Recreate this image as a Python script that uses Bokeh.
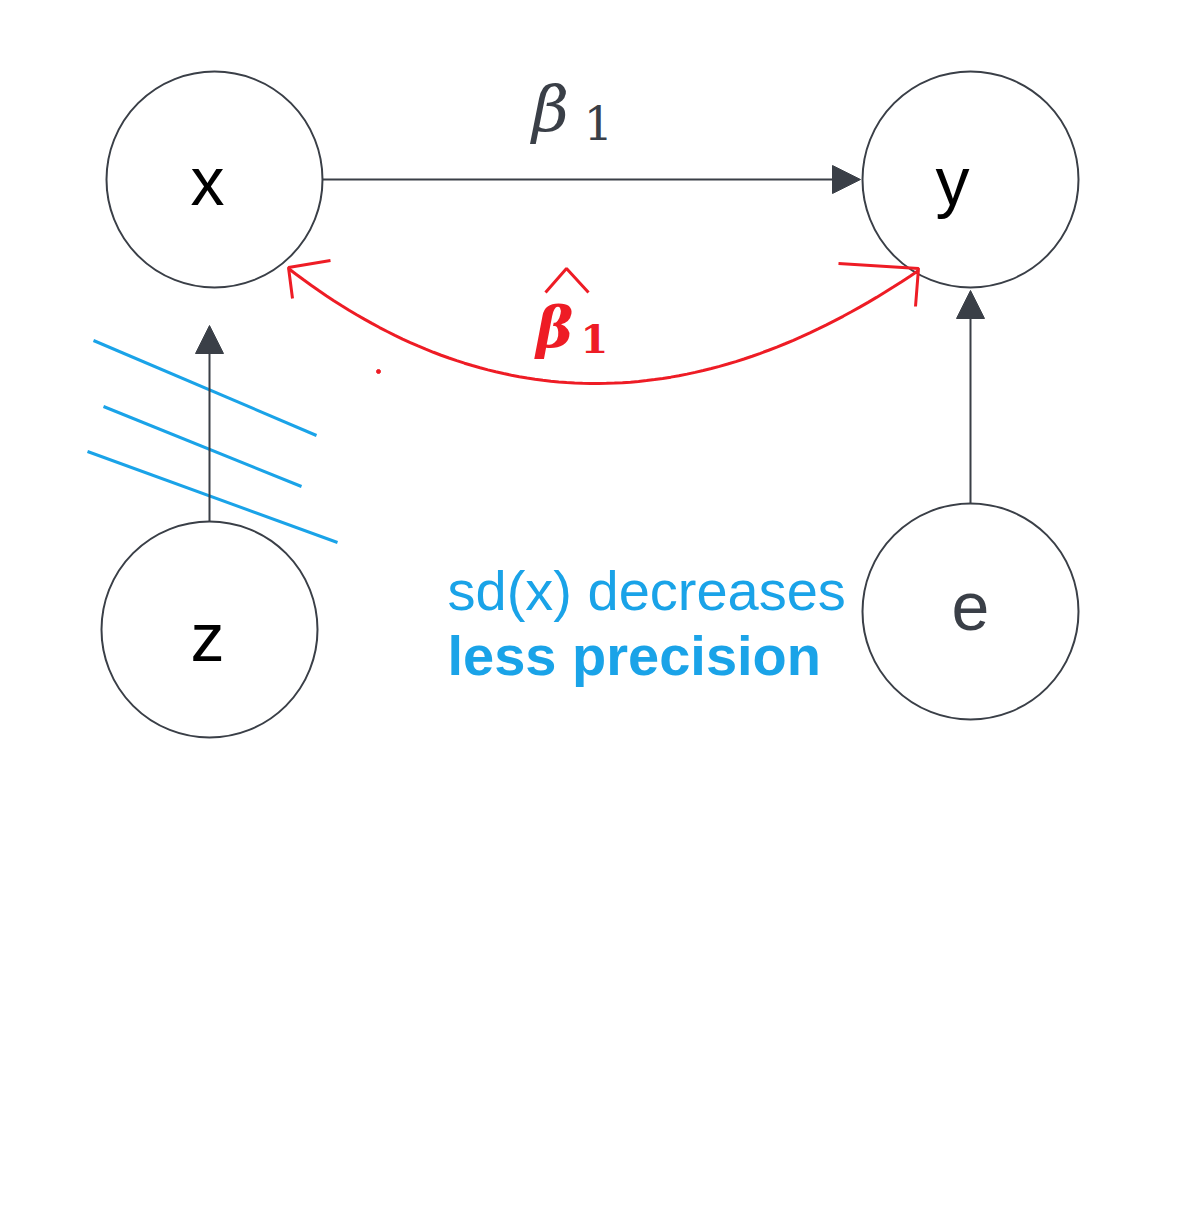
import numpy as np
from bokeh.plotting import figure
from bokeh.models import Range1d, Arrow, NormalHead
from bokeh.core.properties import value
from bokeh.embed import file_html
from bokeh.resources import INLINE

# nodes (pixel-like coordinates, y grows downward)
node_names = ["x", "y", "z", "e"]
node_x = [214, 970, 209, 970]
node_y = [179, 179, 629, 611]
label_x = [207, 952, 207, 970]
label_y = [180, 180, 636, 606]
label_colors = ["black", "black", "black", "#3a3f47"]

# gray arrows: (x0, y0, x1, y1)
arrows = [(322, 179, 860, 179), (209, 521, 209, 325), (970, 503, 970, 290)]

# red curve endpoints and control point
curve_start = (288, 268)
curve_ctrl = (585, 497)
curve_end = (918, 270)
red_heads = [[(292, 298), (288, 267), (330, 260)], [(838, 263), (918, 268), (915, 306)],
             [(545, 292), (566, 268), (588, 292)]]

# blue hatch strokes
hatch_x = [[93, 316], [103, 301], [87, 337]]
hatch_y = [[340, 435], [406, 486], [451, 542]]

gray = "#3a3f47"
red = "#ee1c25"
blue = "#1aa3e8"

p = figure(width=1164, height=1192, output_backend="svg", toolbar_location=None,
           x_range=Range1d(0, 1164), y_range=Range1d(1192, 0), min_border=0)
p.axis.visible = False
p.grid.visible = False
p.outline_line_color = None

p.circle(x=node_x, y=node_y, radius=108, fill_color="white", line_color=gray, line_width=2)
p.text(x=label_x, y=label_y, text=node_names, text_align="center", text_baseline="middle",
       text_font_size="68px", text_font=value("Liberation Sans"), text_color=label_colors)

for x0, y0, x1, y1 in arrows:
    p.add_layout(Arrow(x_start=x0, y_start=y0, x_end=x1, y_end=y1, line_color=gray, line_width=2,
                       end=NormalHead(size=28, fill_color=gray, line_color=gray)))

t = np.linspace(0, 1, 80)
cx = (1 - t) ** 2 * curve_start[0] + 2 * (1 - t) * t * curve_ctrl[0] + t ** 2 * curve_end[0]
cy = (1 - t) ** 2 * curve_start[1] + 2 * (1 - t) * t * curve_ctrl[1] + t ** 2 * curve_end[1]
p.line(cx, cy, line_color=red, line_width=3)
p.multi_line([[a[0] for a in h] for h in red_heads], [[a[1] for a in h] for h in red_heads],
             line_color=red, line_width=3)
p.scatter([378], [371], size=4, color=red)

p.text(x=[550], y=[108], text=["β"], text_align="center", text_baseline="middle",
       text_font_size="64px", text_font=value("DejaVu Serif"), text_font_style="italic", text_color=gray)
p.text(x=[598], y=[122], text=["1"], text_align="center", text_baseline="middle",
       text_font_size="46px", text_font=value("DejaVu Serif"), text_color=gray)
p.text(x=[554], y=[326], text=["β"], text_align="center", text_baseline="middle",
       text_font_size="56px", text_font=value("DejaVu Serif"), text_font_style="bold italic", text_color=red)
p.text(x=[594], y=[338], text=["1"], text_align="center", text_baseline="middle",
       text_font_size="40px", text_font=value("DejaVu Serif"), text_font_style="bold", text_color=red)

p.multi_line(hatch_x, hatch_y, line_color=blue, line_width=3)

p.text(x=[447], y=[590], text=["sd(x) decreases"], text_baseline="middle",
       text_font_size="56px", text_font=value("Liberation Sans"), text_color=blue)
p.text(x=[447], y=[655], text=["less precision"], text_baseline="middle",
       text_font_size="56px", text_font=value("Liberation Sans"), text_font_style="bold", text_color=blue)

open("out.html", "w").write(file_html(p, INLINE))
